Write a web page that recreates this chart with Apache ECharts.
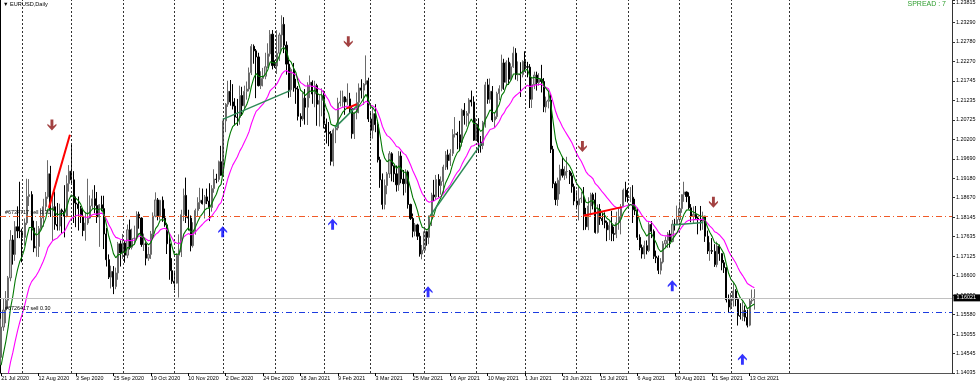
<!DOCTYPE html>
<html><head><meta charset="utf-8">
<script src="https://cdn.jsdelivr.net/npm/echarts@6/dist/echarts.min.js"></script>
<style>html,body{margin:0;padding:0;background:#fff}#c{width:980px;height:384px}</style>
</head><body><div id="c"></div>
<script>
// ---------- data ----------
const tickLabels = ['21 Jul 2020','12 Aug 2020','3 Sep 2020','25 Sep 2020','19 Oct 2020','10 Nov 2020','2 Dec 2020','24 Dec 2020','18 Jan 2021','9 Feb 2021','3 Mar 2021','25 Mar 2021','16 Apr 2021','10 May 2021','1 Jun 2021','23 Jun 2021','15 Jul 2021','6 Aug 2021','30 Aug 2021','21 Sep 2021','13 Oct 2021'];
const priceTicks = ['1.14035','1.14545','1.15055','1.15580','1.16090','1.16600','1.17125','1.17635','1.18145','1.18670','1.19180','1.19690','1.20200','1.20725','1.21235','1.21745','1.22270','1.22780','1.23290','1.23815'];

const open = [1.1445,1.1525,1.1570,1.1596,1.1655,1.1755,1.1717,1.1790,1.1779,
1.1778,1.1762,1.1800,1.1870,1.1875,1.1787,1.1734,1.1738,1.1785,1.1813,1.1843,1.1869,1.1930,1.1834,1.1843,1.1796,1.1792,1.1834,1.1830,1.1818,1.1904,
1.1937,1.1914,1.1853,1.1850,1.1838,1.1818,1.1780,1.1800,1.1813,1.1845,1.1864,1.1846,1.1816,1.1848,1.1838,1.1771,1.1703,1.1657,1.1672,1.1632,1.1668,1.1745,
1.1721,1.1747,1.1715,1.1782,1.1736,1.1759,1.1760,1.1823,1.1813,1.1743,1.1745,1.1707,1.1717,1.1771,1.1818,1.1861,1.1819,1.1860,1.1813,1.1795,1.1745,1.1674,
1.1646,1.1641,1.1715,1.1723,1.1822,1.1873,1.1815,1.1813,1.1740,1.1777,1.1833,1.1854,1.1860,1.1851,1.1869,1.1858,1.1841,1.1891,1.1916,1.1915,1.1962,
1.1926,1.2070,1.2114,1.2148,1.2120,1.2109,1.2080,1.2079,1.2137,1.2110,1.2148,1.2154,1.2197,1.2267,1.2255,1.2239,1.2163,1.2182,1.2188,1.2213,1.2247,1.2299,
1.2216,1.2215,1.2249,1.2297,1.2325,1.2270,1.2220,1.2152,1.2206,1.2157,1.2154,1.2082,1.2075,1.2130,1.2106,1.2165,1.2172,1.2141,1.2163,1.2114,1.2124,
1.2137,1.2061,1.2040,1.2036,1.1963,1.2046,1.2051,1.2117,1.2120,1.2133,1.2120,1.2128,1.2103,1.2036,1.2092,1.2119,1.2157,1.2151,1.2167,1.2176,
1.2075,1.2045,1.2089,1.2060,1.1967,1.1914,1.1849,1.1899,1.1930,1.1983,1.1951,1.1930,1.1901,1.1977,1.1916,1.1904,1.1935,1.1849,1.1812,1.1778,1.1795,1.1765,1.1718,
1.1728,1.1777,1.1762,1.1812,1.1874,1.1869,1.1915,1.1899,1.1910,1.1948,1.1980,1.1965,1.1984,1.2034,1.2036,1.2033,1.2013,1.2098,1.2084,1.2090,1.2125,1.2120,
1.2019,1.2061,1.2014,1.2005,1.2066,1.2165,1.2127,1.2148,1.2072,1.2081,1.2142,1.2155,1.2223,1.2172,1.2225,1.2180,1.2213,1.2249,1.2192,1.2193,1.2192,
1.2227,1.2213,1.2212,1.2127,1.2166,1.2191,1.2171,1.2180,1.2174,1.2107,1.2122,1.2125,1.1995,1.1904,1.1862,1.1913,1.1942,1.1926,1.1936,1.1936,1.1925,1.1896,
1.1858,1.1848,1.1864,1.1866,1.1823,1.1790,1.1845,1.1875,1.1861,1.1775,1.1836,1.1812,1.1806,1.1801,1.1782,1.1794,1.1772,1.1770,1.1801,1.1817,1.1843,1.1887,
1.1869,1.1868,1.1868,1.1835,1.1832,1.1762,1.1735,1.1718,1.1740,1.1727,1.1796,1.1778,1.1712,1.1708,1.1675,1.1697,1.1745,1.1754,1.1771,1.1751,1.1797,1.1796,
1.1809,1.1838,1.1875,1.1882,1.1870,1.1840,1.1818,1.1823,1.1813,1.1810,1.1805,1.1818,1.1765,1.1726,1.1727,1.1725,1.1690,1.1739,1.1719,1.1695,1.1682,1.1597,
1.1578,1.1595,1.1620,1.1598,1.1555,1.1553,1.1569,1.1551,1.1530,1.1594,1.1596];

const high = [1.1547,1.1601,1.1620,1.1660,1.1781,1.1768,1.1805,1.1844,1.1909,
1.1785,1.1812,1.1917,1.1916,1.1884,1.1806,1.1805,1.1792,1.1839,1.1864,1.1882,1.1966,1.1951,1.1877,1.1883,1.1853,1.1851,1.1838,1.1900,1.1926,1.1953,
1.2011,1.1937,1.1870,1.1870,1.1845,1.1839,1.1828,1.1917,1.1873,1.1888,1.1900,1.1882,1.1850,1.1872,1.1872,1.1787,1.1717,1.1687,1.1686,1.1682,1.1750,1.1754,
1.1771,1.1752,1.1796,1.1809,1.1785,1.1793,1.1831,1.1830,1.1815,1.1772,1.1749,1.1737,1.1779,1.1828,1.1881,1.1866,1.1861,1.1870,1.1838,1.1800,1.1770,1.1707,
1.1674,1.1720,1.1770,1.1835,1.1891,1.1920,1.1835,1.1820,1.1802,1.1838,1.1868,1.1893,1.1891,1.1874,1.1891,1.1905,1.1900,1.1942,1.1930,1.1965,1.2004,
1.2077,1.2117,1.2176,1.2178,1.2167,1.2130,1.2128,1.2163,1.2160,1.2163,1.2174,1.2211,1.2273,1.2272,1.2260,1.2250,1.2201,1.2210,1.2250,1.2275,1.2310,1.2310,
1.2230,1.2310,1.2303,1.2349,1.2344,1.2280,1.2232,1.2211,1.2223,1.2181,1.2162,1.2090,1.2145,1.2154,1.2172,1.2190,1.2177,1.2176,1.2168,1.2138,1.2156,
1.2150,1.2076,1.2067,1.2043,1.2050,1.2055,1.2131,1.2150,1.2150,1.2135,1.2169,1.2144,1.2109,1.2094,1.2145,1.2169,1.2180,1.2170,1.2243,1.2184,
1.2092,1.2107,1.2114,1.2071,1.1975,1.1931,1.1915,1.1935,1.1990,1.1987,1.1952,1.1952,1.1990,1.1989,1.1940,1.1942,1.1939,1.1851,1.1825,1.1800,1.1798,1.1774,1.1742,
1.1790,1.1779,1.1820,1.1880,1.1914,1.1927,1.1929,1.1923,1.1954,1.1990,1.1994,1.1995,1.2048,1.2080,1.2041,1.2070,1.2102,1.2117,1.2096,1.2130,1.2150,1.2135,
1.2077,1.2077,1.2030,1.2070,1.2173,1.2181,1.2182,1.2162,1.2093,1.2147,1.2164,1.2245,1.2234,1.2230,1.2237,1.2222,1.2266,1.2262,1.2227,1.2225,1.2230,
1.2254,1.2226,1.2220,1.2185,1.2200,1.2200,1.2196,1.2218,1.2183,1.2134,1.2145,1.2140,1.2004,1.1910,1.1920,1.1954,1.1975,1.1950,1.1975,1.1940,1.1933,1.1904,
1.1886,1.1896,1.1882,1.1895,1.1840,1.1868,1.1880,1.1880,1.1880,1.1849,1.1850,1.1826,1.1828,1.1806,1.1806,1.1832,1.1790,1.1830,1.1840,1.1850,1.1891,1.1909,
1.1892,1.1895,1.1900,1.1864,1.1840,1.1770,1.1743,1.1753,1.1754,1.1802,1.1805,1.1783,1.1727,1.1714,1.1707,1.1752,1.1764,1.1776,1.1781,1.1808,1.1811,1.1846,
1.1857,1.1876,1.1909,1.1883,1.1881,1.1850,1.1844,1.1845,1.1817,1.1845,1.1830,1.1819,1.1780,1.1749,1.1760,1.1744,1.1751,1.1743,1.1720,1.1702,1.1684,1.1611,
1.1615,1.1641,1.1625,1.1603,1.1588,1.1593,1.1582,1.1571,1.1600,1.1624,1.1625];

const low = [1.1425,1.1515,1.1535,1.1573,1.1646,1.1690,1.1700,1.1760,1.1760,
1.1696,1.1740,1.1795,1.1845,1.1754,1.1723,1.1711,1.1710,1.1782,1.1790,1.1833,1.1864,1.1816,1.1753,1.1782,1.1780,1.1780,1.1772,1.1762,1.1815,1.1883,
1.1905,1.1800,1.1789,1.1780,1.1800,1.1765,1.1753,1.1795,1.1811,1.1836,1.1826,1.1800,1.1737,1.1831,1.1731,1.1685,1.1652,1.1627,1.1612,1.1625,1.1650,1.1685,
1.1705,1.1695,1.1707,1.1730,1.1730,1.1745,1.1754,1.1785,1.1737,1.1726,1.1688,1.1700,1.1705,1.1760,1.1815,1.1807,1.1809,1.1803,1.1790,1.1718,1.1650,1.1639,
1.1622,1.1640,1.1603,1.1710,1.1805,1.1800,1.1780,1.1725,1.1735,1.1769,1.1816,1.1837,1.1849,1.1812,1.1850,1.1805,1.1830,1.1880,1.1905,1.1909,1.1925,
1.1925,1.2040,1.2107,1.2110,1.2100,1.2058,1.2057,1.2060,1.2083,1.2100,1.2126,1.2148,1.2191,1.2221,1.2130,1.2161,1.2154,1.2161,1.2180,1.2210,1.2240,1.2206,
1.2210,1.2194,1.2228,1.2264,1.2249,1.2192,1.2131,1.2133,1.2147,1.2115,1.2071,1.2054,1.2070,1.2060,1.2059,1.2130,1.2115,1.2106,1.2057,1.2055,1.2082,
1.2050,1.2010,1.2003,1.1952,1.1950,1.2011,1.2045,1.2108,1.2107,1.2086,1.2112,1.2090,1.2023,1.2022,1.2074,1.2090,1.2129,1.2112,1.2164,1.2067,
1.2023,1.2023,1.2040,1.1960,1.1893,1.1836,1.1836,1.1876,1.1919,1.1910,1.1908,1.1883,1.1885,1.1905,1.1873,1.1880,1.1838,1.1808,1.1762,1.1765,1.1755,1.1711,1.1704,
1.1725,1.1740,1.1744,1.1792,1.1858,1.1863,1.1868,1.1875,1.1877,1.1940,1.1941,1.1951,1.1977,1.2026,1.1995,1.1990,1.2002,1.2060,1.2055,1.2060,1.2108,1.2017,
1.2017,1.1985,1.1986,1.1995,1.2052,1.2115,1.2116,1.2067,1.2052,1.2075,1.2125,1.2148,1.2152,1.2161,1.2165,1.2176,1.2210,1.2179,1.2175,1.2133,1.2185,
1.2200,1.2185,1.2104,1.2104,1.2154,1.2150,1.2163,1.2145,1.2093,1.2092,1.2103,1.1985,1.1892,1.1847,1.1845,1.1876,1.1920,1.1914,1.1918,1.1903,1.1880,1.1847,
1.1836,1.1807,1.1853,1.1781,1.1782,1.1781,1.1820,1.1836,1.1772,1.1772,1.1795,1.1795,1.1786,1.1752,1.1755,1.1752,1.1752,1.1760,1.1782,1.1770,1.1842,1.1856,
1.1854,1.1855,1.1800,1.1821,1.1755,1.1728,1.1706,1.1705,1.1717,1.1723,1.1760,1.1705,1.1694,1.1665,1.1664,1.1693,1.1733,1.1734,1.1735,1.1749,1.1780,1.1796,
1.1801,1.1827,1.1856,1.1855,1.1836,1.1802,1.1800,1.1808,1.1770,1.1780,1.1782,1.1750,1.1718,1.1700,1.1718,1.1684,1.1683,1.1700,1.1675,1.1668,1.1590,1.1563,
1.1571,1.1579,1.1580,1.1529,1.1545,1.1541,1.1540,1.1524,1.1527,1.1586,1.1571];

const close = [1.1525,1.1570,1.1596,1.1655,1.1755,1.1717,1.1790,1.1779,1.1778,
1.1762,1.1800,1.1870,1.1875,1.1787,1.1734,1.1738,1.1785,1.1813,1.1843,1.1869,1.1930,1.1834,1.1843,1.1796,1.1792,1.1834,1.1830,1.1818,1.1904,1.1937,
1.1914,1.1853,1.1850,1.1838,1.1818,1.1780,1.1800,1.1813,1.1845,1.1864,1.1846,1.1816,1.1848,1.1838,1.1771,1.1703,1.1657,1.1672,1.1632,1.1668,1.1745,1.1721,
1.1747,1.1715,1.1782,1.1736,1.1759,1.1760,1.1823,1.1813,1.1743,1.1745,1.1707,1.1717,1.1771,1.1818,1.1861,1.1819,1.1860,1.1813,1.1795,1.1745,1.1674,1.1646,
1.1641,1.1715,1.1723,1.1822,1.1873,1.1815,1.1813,1.1740,1.1777,1.1833,1.1854,1.1860,1.1851,1.1869,1.1858,1.1841,1.1891,1.1916,1.1915,1.1962,1.1926,
1.2070,1.2114,1.2148,1.2120,1.2109,1.2080,1.2079,1.2137,1.2110,1.2148,1.2154,1.2197,1.2267,1.2255,1.2239,1.2163,1.2182,1.2188,1.2213,1.2247,1.2299,1.2216,
1.2215,1.2249,1.2297,1.2325,1.2270,1.2220,1.2152,1.2206,1.2157,1.2154,1.2082,1.2075,1.2130,1.2106,1.2165,1.2172,1.2141,1.2163,1.2114,1.2124,1.2137,
1.2061,1.2040,1.2036,1.1963,1.2046,1.2051,1.2117,1.2120,1.2133,1.2120,1.2128,1.2103,1.2036,1.2092,1.2119,1.2157,1.2151,1.2167,1.2176,1.2075,
1.2045,1.2089,1.2060,1.1967,1.1914,1.1849,1.1899,1.1930,1.1983,1.1951,1.1930,1.1901,1.1977,1.1916,1.1904,1.1935,1.1849,1.1812,1.1778,1.1795,1.1765,1.1718,1.1728,
1.1777,1.1762,1.1812,1.1874,1.1869,1.1915,1.1899,1.1910,1.1948,1.1980,1.1965,1.1984,1.2034,1.2036,1.2033,1.2013,1.2098,1.2084,1.2090,1.2125,1.2120,1.2019,
1.2061,1.2014,1.2005,1.2066,1.2165,1.2127,1.2148,1.2072,1.2081,1.2142,1.2155,1.2223,1.2172,1.2225,1.2180,1.2213,1.2249,1.2192,1.2193,1.2192,1.2227,
1.2213,1.2212,1.2127,1.2166,1.2191,1.2171,1.2180,1.2174,1.2107,1.2122,1.2125,1.1995,1.1904,1.1862,1.1913,1.1942,1.1926,1.1936,1.1936,1.1925,1.1896,1.1858,
1.1848,1.1864,1.1866,1.1823,1.1790,1.1845,1.1875,1.1861,1.1775,1.1836,1.1812,1.1806,1.1801,1.1782,1.1794,1.1772,1.1770,1.1801,1.1817,1.1843,1.1887,1.1869,
1.1868,1.1868,1.1835,1.1832,1.1762,1.1735,1.1718,1.1740,1.1727,1.1796,1.1778,1.1712,1.1708,1.1675,1.1697,1.1745,1.1754,1.1771,1.1751,1.1797,1.1796,1.1809,
1.1838,1.1875,1.1882,1.1870,1.1840,1.1818,1.1823,1.1813,1.1810,1.1805,1.1818,1.1765,1.1726,1.1727,1.1725,1.1690,1.1739,1.1719,1.1695,1.1682,1.1597,1.1578,
1.1595,1.1620,1.1598,1.1555,1.1553,1.1569,1.1551,1.1530,1.1594,1.1596,1.1602];

const maFast = [1.1424,1.1456,1.1487,1.1524,1.1575,1.1607,1.1648,1.1677,1.1699,
1.1713,1.1732,1.1763,1.1788,1.1788,1.1776,1.1768,1.1772,1.1781,1.1795,1.1811,1.1837,1.1836,1.1838,1.1829,1.1821,1.1824,1.1825,1.1823,1.1841,1.1862,
1.1874,1.1869,1.1865,1.1859,1.1850,1.1834,1.1827,1.1824,1.1829,1.1837,1.1839,1.1834,1.1837,1.1837,1.1822,1.1796,1.1765,1.1744,1.1719,1.1708,1.1716,1.1717,
1.1724,1.1722,1.1735,1.1735,1.1740,1.1744,1.1762,1.1773,1.1766,1.1761,1.1749,1.1742,1.1748,1.1764,1.1785,1.1793,1.1808,1.1809,1.1806,1.1792,1.1766,1.1739,
1.1717,1.1717,1.1718,1.1741,1.1770,1.1780,1.1787,1.1777,1.1777,1.1789,1.1803,1.1816,1.1824,1.1834,1.1839,1.1839,1.1851,1.1865,1.1876,1.1895,1.1902,
1.1939,1.1978,1.2016,1.2039,1.2055,1.2061,1.2065,1.2081,1.2087,1.2101,1.2113,1.2132,1.2162,1.2183,1.2195,1.2188,1.2187,1.2187,1.2193,1.2205,1.2226,1.2224,
1.2222,1.2228,1.2243,1.2261,1.2263,1.2254,1.2231,1.2225,1.2210,1.2198,1.2172,1.2151,1.2146,1.2137,1.2143,1.2149,1.2147,1.2151,1.2143,1.2139,1.2139,
1.2122,1.2104,1.2089,1.2061,1.2058,1.2056,1.2070,1.2081,1.2093,1.2099,1.2105,1.2105,1.2090,1.2090,1.2096,1.2110,1.2119,1.2130,1.2140,1.2126,
1.2108,1.2104,1.2094,1.2066,1.2032,1.1991,1.1971,1.1962,1.1967,1.1963,1.1956,1.1944,1.1951,1.1943,1.1934,1.1934,1.1915,1.1892,1.1867,1.1851,1.1832,1.1807,1.1789,
1.1786,1.1781,1.1788,1.1807,1.1821,1.1842,1.1855,1.1867,1.1885,1.1906,1.1919,1.1933,1.1955,1.1973,1.1986,1.1992,1.2016,1.2031,1.2044,1.2062,1.2075,1.2063,
1.2063,1.2052,1.2042,1.2047,1.2073,1.2085,1.2099,1.2093,1.2090,1.2102,1.2114,1.2138,1.2146,1.2164,1.2168,1.2178,1.2194,1.2194,1.2194,1.2194,1.2201,
1.2204,1.2206,1.2188,1.2183,1.2185,1.2182,1.2182,1.2180,1.2164,1.2155,1.2148,1.2114,1.2067,1.2022,1.1998,1.1986,1.1973,1.1965,1.1959,1.1951,1.1939,1.1921,
1.1905,1.1896,1.1889,1.1874,1.1855,1.1853,1.1858,1.1859,1.1840,1.1839,1.1833,1.1827,1.1821,1.1812,1.1808,1.1800,1.1793,1.1795,1.1800,1.1810,1.1827,1.1836,
1.1843,1.1849,1.1846,1.1843,1.1825,1.1805,1.1786,1.1776,1.1765,1.1772,1.1773,1.1760,1.1748,1.1732,1.1724,1.1729,1.1735,1.1743,1.1745,1.1757,1.1766,1.1775,
1.1789,1.1808,1.1824,1.1834,1.1835,1.1831,1.1829,1.1825,1.1822,1.1818,1.1818,1.1806,1.1788,1.1775,1.1764,1.1748,1.1746,1.1740,1.1730,1.1719,1.1692,1.1667,
1.1651,1.1644,1.1634,1.1616,1.1602,1.1595,1.1585,1.1573,1.1578,1.1582,1.1586];

const maSlow = [1.1330,1.1352,1.1374,1.1400,1.1432,1.1458,1.1488,1.1515,1.1539,
1.1559,1.1581,1.1607,1.1631,1.1645,1.1653,1.1661,1.1672,1.1685,1.1699,1.1715,1.1735,1.1744,1.1753,1.1757,1.1760,1.1767,1.1773,1.1777,1.1789,1.1802,
1.1812,1.1816,1.1819,1.1821,1.1821,1.1817,1.1815,1.1815,1.1818,1.1822,1.1824,1.1823,1.1825,1.1826,1.1821,1.1810,1.1796,1.1785,1.1771,1.1762,1.1760,1.1757,
1.1756,1.1752,1.1755,1.1753,1.1754,1.1755,1.1761,1.1766,1.1764,1.1762,1.1757,1.1753,1.1755,1.1761,1.1770,1.1774,1.1782,1.1785,1.1786,1.1782,1.1772,1.1761,
1.1750,1.1747,1.1745,1.1752,1.1763,1.1768,1.1772,1.1769,1.1770,1.1776,1.1783,1.1790,1.1796,1.1803,1.1808,1.1811,1.1818,1.1827,1.1835,1.1847,1.1854,
1.1874,1.1896,1.1919,1.1937,1.1953,1.1964,1.1975,1.1990,1.2001,1.2014,1.2027,1.2042,1.2063,1.2080,1.2095,1.2101,1.2108,1.2115,1.2124,1.2135,1.2150,1.2156,
1.2161,1.2169,1.2181,1.2194,1.2201,1.2203,1.2198,1.2199,1.2195,1.2191,1.2181,1.2171,1.2167,1.2162,1.2162,1.2163,1.2161,1.2161,1.2157,1.2154,1.2152,
1.2144,1.2134,1.2125,1.2110,1.2104,1.2099,1.2101,1.2103,1.2106,1.2107,1.2109,1.2108,1.2101,1.2100,1.2102,1.2107,1.2111,1.2116,1.2122,1.2118,
1.2111,1.2109,1.2105,1.2092,1.2076,1.2055,1.2041,1.2031,1.2027,1.2020,1.2012,1.2002,1.2000,1.1992,1.1984,1.1980,1.1968,1.1954,1.1938,1.1925,1.1911,1.1893,1.1878,
1.1869,1.1859,1.1855,1.1857,1.1858,1.1863,1.1866,1.1870,1.1877,1.1886,1.1893,1.1901,1.1913,1.1924,1.1934,1.1941,1.1955,1.1967,1.1978,1.1991,1.2003,1.2004,
1.2009,1.2009,1.2009,1.2014,1.2028,1.2037,1.2047,1.2049,1.2052,1.2060,1.2069,1.2083,1.2091,1.2103,1.2110,1.2119,1.2131,1.2137,1.2142,1.2147,1.2154,
1.2159,1.2164,1.2161,1.2161,1.2164,1.2165,1.2166,1.2167,1.2161,1.2158,1.2155,1.2140,1.2119,1.2096,1.2079,1.2067,1.2054,1.2043,1.2033,1.2023,1.2012,1.1998,
1.1984,1.1973,1.1963,1.1950,1.1936,1.1928,1.1923,1.1917,1.1904,1.1898,1.1890,1.1882,1.1875,1.1867,1.1860,1.1852,1.1845,1.1841,1.1839,1.1839,1.1843,1.1845,
1.1847,1.1849,1.1848,1.1847,1.1839,1.1830,1.1820,1.1813,1.1805,1.1804,1.1802,1.1794,1.1786,1.1776,1.1769,1.1767,1.1766,1.1766,1.1765,1.1768,1.1771,1.1774,
1.1780,1.1789,1.1797,1.1804,1.1807,1.1808,1.1809,1.1809,1.1809,1.1809,1.1810,1.1806,1.1799,1.1792,1.1786,1.1777,1.1774,1.1769,1.1762,1.1755,1.1741,1.1726,
1.1714,1.1705,1.1695,1.1682,1.1670,1.1661,1.1651,1.1640,1.1636,1.1632,1.1629];

// month separators (bar index of first trading day of each month)
const monthStarts = [9,30,52,74,95,117,138,158,181,203,224,246,268,290,312,337];
const orderLevels = [1.18178, 1.15639];
const orderTexts = ['#6734717 sell 0.30', '#6726417 sell 0.30'];
const currentPrice = 1.16021;
const currentPriceText = '1.16021';
// drawn objects: [bar index, price]
const redLines = [
  [[20.4,1.1840],[29.4,1.2033]],
  [[147.7,1.2103],[152.0,1.2114]],
  [[248.9,1.1819],[265.3,1.1842]]
];
const tealLines = [
  [[94.7,1.2074],[123.5,1.2150]],
  [[142.7,1.2052],[152.0,1.2109]],
  [[182.6,1.1812],[205.4,1.2011]],
  [[287.1,1.1795],[300.2,1.1801]]
];
const downArrows = [[21.7,1.2059],[148.4,1.2279],[248.5,1.2002],[304.5,1.1855]];
const upArrows = [[94.7,1.1777],[141.7,1.1797],[182.5,1.1618],[286.9,1.1634],[316.9,1.1440]];

// ---------- layout ----------
const SLOTS = 407;
const Y_MIN = 1.14035;
const Y_STEP = (1.23815 - 1.14035) / 19;
const Y_MAX = Y_MIN + Y_STEP * 19 * 373 / 370;
const FONT = 'Liberation Sans';

const categories = [];
for (let d = new Date(Date.UTC(2020, 6, 21)); categories.length < SLOTS; d.setUTCDate(d.getUTCDate() + 1)) {
  const wd = d.getUTCDay();
  if (wd === 0 || wd === 6) continue;
  const s = d.toISOString().slice(0, 10);
  if (s === '2020-12-25') continue;
  categories.push(s);
}
const candles = close.map((c, i) => [open[i], c, low[i], high[i]]);
const tickOn = (i) => i % 16 === 0 && i / 16 < tickLabels.length;
const yFmt = (v) => {
  const k = Math.round((v - Y_MIN) / Y_STEP);
  if (k < 0 || k >= priceTicks.length) return '';
  return Math.abs(v - (Y_MIN + k * Y_STEP)) < Y_STEP * 0.02 ? priceTicks[k] : '';
};
const dashDot = [6, 3, 1, 3];
const upPath = 'path://M5,0L10,5.5L10,7.5L6.6,4.6L6.6,12L3.4,12L3.4,4.6L0,7.5L0,5.5Z';
const downPath = 'path://M5,12L10,6.5L10,4.5L6.6,7.4L6.6,0L3.4,0L3.4,7.4L0,4.5L0,6.5Z';

const series = [
  {
    type: 'candlestick', xAxisIndex: 0, yAxisIndex: 0, data: candles, barWidth: 1.6,
    itemStyle: { color: '#bdbdbd', color0: '#000000', borderColor: '#6a6a6a', borderColor0: '#000000', borderWidth: 1 },
    markLine: {
      silent: true, symbol: ['none', 'none'], animation: false, precision: 6,
      data: [
        ...monthStarts.map(i => ({ xAxis: categories[i], lineStyle: { color: '#333', type: [2, 2], width: 1 }, label: { show: false } })),
        { yAxis: currentPrice, lineStyle: { color: '#c0c0c0', type: 'solid', width: 1 },
          label: { show: true, position: 'end', distance: 1.5, formatter: currentPriceText, color: '#fff', backgroundColor: '#000', fontSize: 5.4, fontFamily: FONT, padding: [1, 4, 1, 3] } },
        { yAxis: orderLevels[0], lineStyle: { color: '#f05a28', type: dashDot, width: 1 },
          label: { show: true, position: 'insideStartTop', distance: [5, 1.5], formatter: orderTexts[0], color: '#000', fontSize: 5.4, fontFamily: FONT } },
        { yAxis: orderLevels[1], lineStyle: { color: '#1c3ce0', type: dashDot, width: 1 },
          label: { show: true, position: 'insideStartTop', distance: [5, 1.5], formatter: orderTexts[1], color: '#000', fontSize: 5.4, fontFamily: FONT } }
      ]
    }
  },
  { type: 'line', xAxisIndex: 0, yAxisIndex: 0, data: maSlow, showSymbol: false, smooth: false, lineStyle: { color: '#ff00ff', width: 1.1 }, z: 3 },
  { type: 'line', xAxisIndex: 0, yAxisIndex: 0, data: maFast, showSymbol: false, smooth: false, lineStyle: { color: '#007800', width: 1.1 }, z: 3 },
  ...redLines.map(seg => ({ type: 'line', xAxisIndex: 1, yAxisIndex: 0, data: seg, showSymbol: false, lineStyle: { color: '#ff0000', width: 2 }, z: 4 })),
  ...tealLines.map(seg => ({ type: 'line', xAxisIndex: 1, yAxisIndex: 0, data: seg, showSymbol: false, lineStyle: { color: '#2e8b57', width: 1.5 }, z: 4 })),
  { type: 'scatter', xAxisIndex: 1, yAxisIndex: 0, data: downArrows, symbol: downPath, symbolSize: [9, 11], itemStyle: { color: '#8b1212' }, z: 5 },
  { type: 'scatter', xAxisIndex: 1, yAxisIndex: 0, data: upArrows, symbol: upPath, symbolSize: [9, 11], itemStyle: { color: '#0000ff' }, z: 5 }
];

const chart = echarts.init(document.getElementById('c'), null, { renderer: 'canvas' });
chart.setOption({
  animation: false,
  backgroundColor: '#ffffff',
  title: [
    { text: '▼ EURUSD,Daily', left: 3, top: 1, padding: 0, textStyle: { fontSize: 5.6, fontWeight: 'normal', color: '#000', fontFamily: FONT } },
    { text: 'SPREAD : 7', right: 34, top: 1, padding: 0, textStyle: { fontSize: 7, fontWeight: 'normal', color: '#2e9e2e', fontFamily: FONT } }
  ],
  grid: { left: 0, right: 28, top: 0, bottom: 11, containLabel: false, outerBoundsMode: 'none' },
  xAxis: [
    { type: 'category', data: categories, boundaryGap: true,
      axisLine: { show: true, onZero: false, lineStyle: { color: '#555', width: 1 } },
      axisTick: { show: true, alignWithLabel: true, interval: tickOn, length: 3, lineStyle: { color: '#000' } },
      axisLabel: { show: true, interval: tickOn, formatter: (v, i) => tickLabels[i / 16] || '', align: 'left', margin: 3, fontSize: 5.4, color: '#000', fontFamily: FONT },
      splitLine: { show: false } },
    { type: 'value', min: -0.5, max: SLOTS - 0.5, show: false }
  ],
  yAxis: [
    { type: 'value', position: 'right', min: Y_MIN, max: Y_MAX, interval: Y_STEP,
      axisLine: { show: true, onZero: false, lineStyle: { color: '#333', width: 1 } },
      axisTick: { show: true, length: 3, lineStyle: { color: '#333' } },
      axisLabel: { show: true, margin: 4, fontSize: 5.4, color: '#000', fontFamily: FONT, formatter: yFmt },
      splitLine: { show: false } },
    { type: 'value', position: 'left', min: Y_MIN, max: Y_MAX,
      axisLine: { show: true, onZero: false, lineStyle: { color: '#000', width: 2 } },
      axisTick: { show: false }, axisLabel: { show: false }, splitLine: { show: false } }
  ],
  series: series
});
</script>
</body></html>
